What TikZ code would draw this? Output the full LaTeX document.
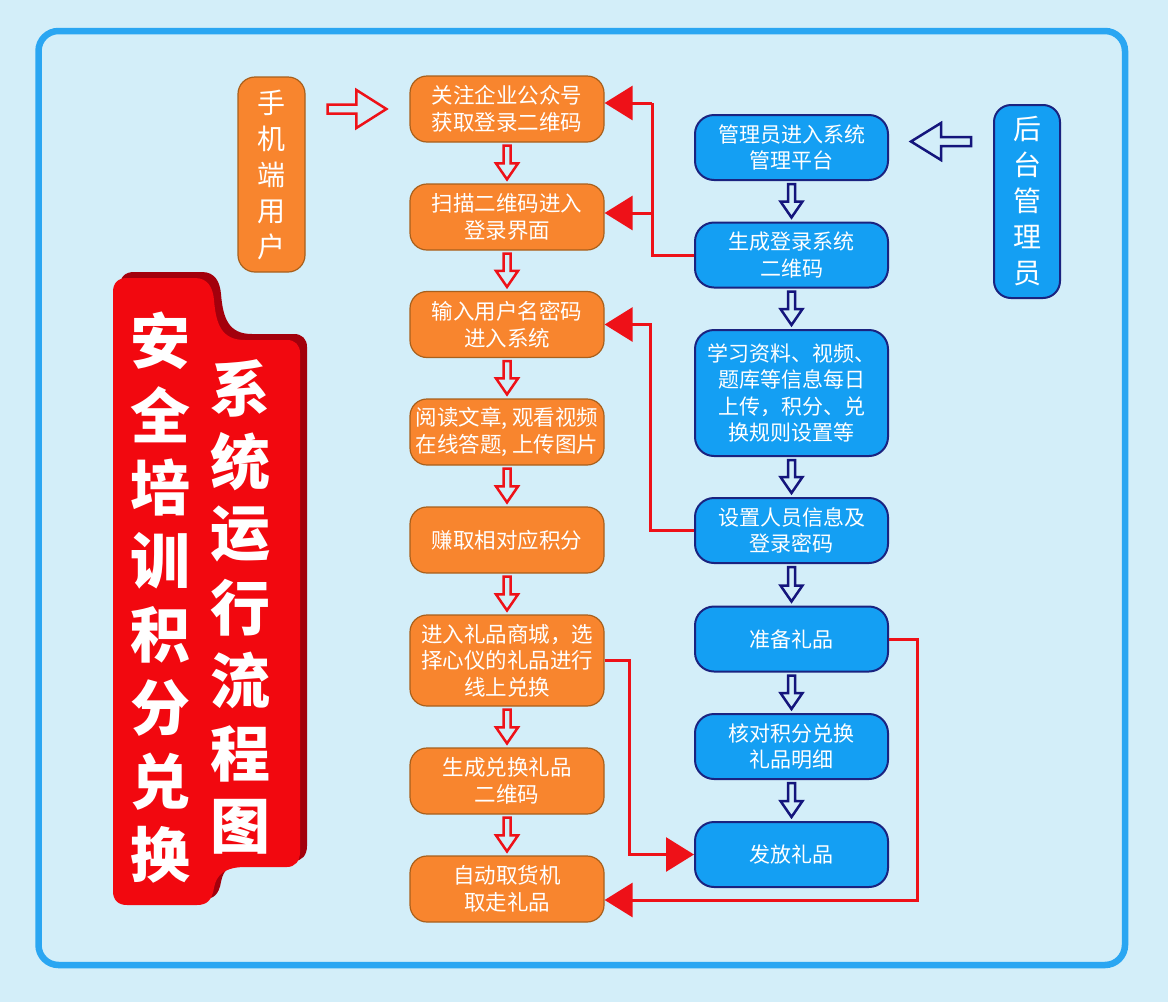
\documentclass[tikz,border=0pt]{standalone}
\usepackage{fontspec}
\setmainfont{Noto Sans CJK SC}
\usetikzlibrary{arrows.meta,calc}
\definecolor{bgc}{HTML}{D3EEF9}
\definecolor{framec}{HTML}{2AA6F2}
\definecolor{orf}{HTML}{F8852E}
\definecolor{ord}{HTML}{A8601C}
\definecolor{blf}{HTML}{149FF3}
\definecolor{bld}{HTML}{1A2380}
\definecolor{redc}{HTML}{EE1118}
\definecolor{navyc}{HTML}{14157C}
\definecolor{bannerred}{HTML}{F2080F}
\definecolor{bannerdark}{HTML}{A3000C}
\newcommand\hollowdown[3]{%
  \draw[#3, line width=2.5pt, line join=miter]
    let \p1=(#1.south), \p2=(#2.north) in
    (\x1-3.5pt,\y1-3pt) -- (\x1-3.5pt,\y2+20pt) -- (\x1-11pt,\y2+20pt) --
    (\x1,\y2+4pt) -- (\x1+11pt,\y2+20pt) -- (\x1+3.5pt,\y2+20pt) --
    (\x1+3.5pt,\y1-3pt) -- cycle;}
\begin{document}
\begin{tikzpicture}[x=1pt,y=-1pt,
  obox/.style={draw=ord, line width=1.2pt, fill=orf, rounded corners=17pt,
    minimum width=194pt, minimum height=66pt, text=white, align=center,
    font=\fontsize{21.5}{26.5}\selectfont, inner sep=0pt},
  bbox/.style={draw=bld, line width=2pt, fill=blf, rounded corners=19pt,
    minimum width=193pt, minimum height=65pt, text=white, align=center,
    font=\fontsize{21}{26.5}\selectfont, inner sep=0pt},
  sidebox/.style={rounded corners=17pt, text=white, align=center,
    font=\fontsize{28}{36}\selectfont, inner sep=0pt},
  redline/.style={draw=redc, line width=3pt, line join=miter,
    -{Triangle[length=28pt,width=34pt]}},
  btext/.style={text=white, font=\bfseries\fontsize{60}{60}\selectfont, inner sep=0pt}
]
% background and frame
\fill[bgc] (0,0) rectangle (1168,1002);
\draw[framec, line width=6.5pt, rounded corners=20pt] (38.5,31) rectangle (1125,965);

% banner
\def\bannerpath{(113,292) .. controls (113,283) and (118,278) .. (127,278) -- (195,278)
  .. controls (208,278) and (213,288) .. (214,300)
  .. controls (216,325) and (222,340) .. (245,340) -- (287,340)
  .. controls (295,340) and (300,345) .. (300,353) -- (300,852)
  .. controls (300,861) and (295,867) .. (287,867) -- (245,867)
  .. controls (225,867) and (216,875) .. (214,888)
  .. controls (212,900) and (207,905) .. (197,905) -- (127,905)
  .. controls (118,905) and (113,900) .. (113,891) -- cycle}
\begin{scope}[shift={(7,-6)}]
  \fill[bannerdark] \bannerpath;
\end{scope}
\fill[bannerred] \bannerpath;
\foreach \c [count=\i] in {安,全,培,训,积,分,兑,换} {
  \node[btext] (ta\i) at (160,341+73.4*\i-73.4) {\c};
}
\foreach \c [count=\i] in {系,统,运,行,流,程,图} {
  \node[btext] (tb\i) at (240,388+73.2*\i-73.2) {\c};
}

% side labels
\node[sidebox, fill=orf, draw=ord, line width=1.2pt, minimum width=67pt, minimum height=195pt] (m) at (271.5,174.5) {手\\机\\端\\用\\户};
\node[sidebox, fill=blf, draw=bld, line width=2pt, minimum width=66pt, minimum height=193pt] (h) at (1027,201.5) {后\\台\\管\\理\\员};

% orange column
\node[obox] (o1) at (507,109) {关注企业公众号\\获取登录二维码};
\node[obox] (o2) at (507,217) {扫描二维码进入\\登录界面};
\node[obox] (o3) at (507,324.5) {输入用户名密码\\进入系统};
\node[obox] (o4) at (507,432) {阅读文章, 观看视频\\在线答题, 上传图片};
\node[obox] (o5) at (507,540) {赚取相对应积分};
\node[obox, minimum height=91pt] (o6) at (507,660.5) {进入礼品商城，选\\择心仪的礼品进行\\线上兑换};
\node[obox] (o7) at (507,781) {生成兑换礼品\\二维码};
\node[obox] (o8) at (507,889) {自动取货机\\取走礼品};

% blue column
\node[bbox] (b1) at (791.5,147.5) {管理员进入系统\\管理平台};
\node[bbox] (b2) at (791.5,255) {生成登录系统\\二维码};
\node[bbox, minimum height=126pt] (b3) at (791.5,393) {学习资料、视频、\\题库等信息每日\\上传，积分、兑\\换规则设置等};
\node[bbox] (b4) at (791.5,530.5) {设置人员信息及\\登录密码};
\node[bbox] (b5) at (791.5,639) {准备礼品};
\node[bbox] (b6) at (791.5,746.5) {核对积分兑换\\礼品明细};
\node[bbox] (b7) at (791.5,854.5) {发放礼品};

% hollow down arrows
\hollowdown{o1}{o2}{redc}
\hollowdown{o2}{o3}{redc}
\hollowdown{o3}{o4}{redc}
\hollowdown{o4}{o5}{redc}
\hollowdown{o5}{o6}{redc}
\hollowdown{o6}{o7}{redc}
\hollowdown{o7}{o8}{redc}
\hollowdown{b1}{b2}{navyc}
\hollowdown{b2}{b3}{navyc}
\hollowdown{b3}{b4}{navyc}
\hollowdown{b4}{b5}{navyc}
\hollowdown{b5}{b6}{navyc}
\hollowdown{b6}{b7}{navyc}

% hollow horizontal arrows
\draw[redc, line width=2.5pt, line join=miter]
  let \p1=(m.east), \p2=(o1.west) in
  (\x1+22pt,\y2-4.5pt) -- (\x2-53pt,\y2-4.5pt) -- (\x2-53pt,\y2-19pt) -- (\x2-23pt,\y2) --
  (\x2-53pt,\y2+19pt) -- (\x2-53pt,\y2+4.5pt) -- (\x1+22pt,\y2+4.5pt) -- cycle;
\draw[navyc, line width=2.5pt, line join=miter]
  let \p1=(h.west), \p2=(b1.east), \n1={\y2+6pt} in
  (\x1-22pt,\n1-4.5pt) -- (\x2+52pt,\n1-4.5pt) -- (\x2+52pt,\n1-18.5pt) -- (\x2+22pt,\n1) --
  (\x2+52pt,\n1+18.5pt) -- (\x2+52pt,\n1+4.5pt) -- (\x1-22pt,\n1+4.5pt) -- cycle;

% red connectors
\coordinate (c1) at (652,103);
\coordinate (c2) at (652,213);
\draw[redc, line width=3pt] (b2.west) -| (c1);
\draw[redline] (c1) -- (c1 -| o1.east);
\draw[redline] (c2) -- (c2 -| o2.east);
\draw[redline] (b4.west) -| ($(o3.east)+(46,0)$) -- (o3.east);
\draw[redline] (o6.east) -- ++(25,0) |- (b7.west);
\coordinate (c3) at (917,900);
\draw[redline] (b5.east) -| (c3) -- (c3 -| o8.east);
\end{tikzpicture}
\end{document}
